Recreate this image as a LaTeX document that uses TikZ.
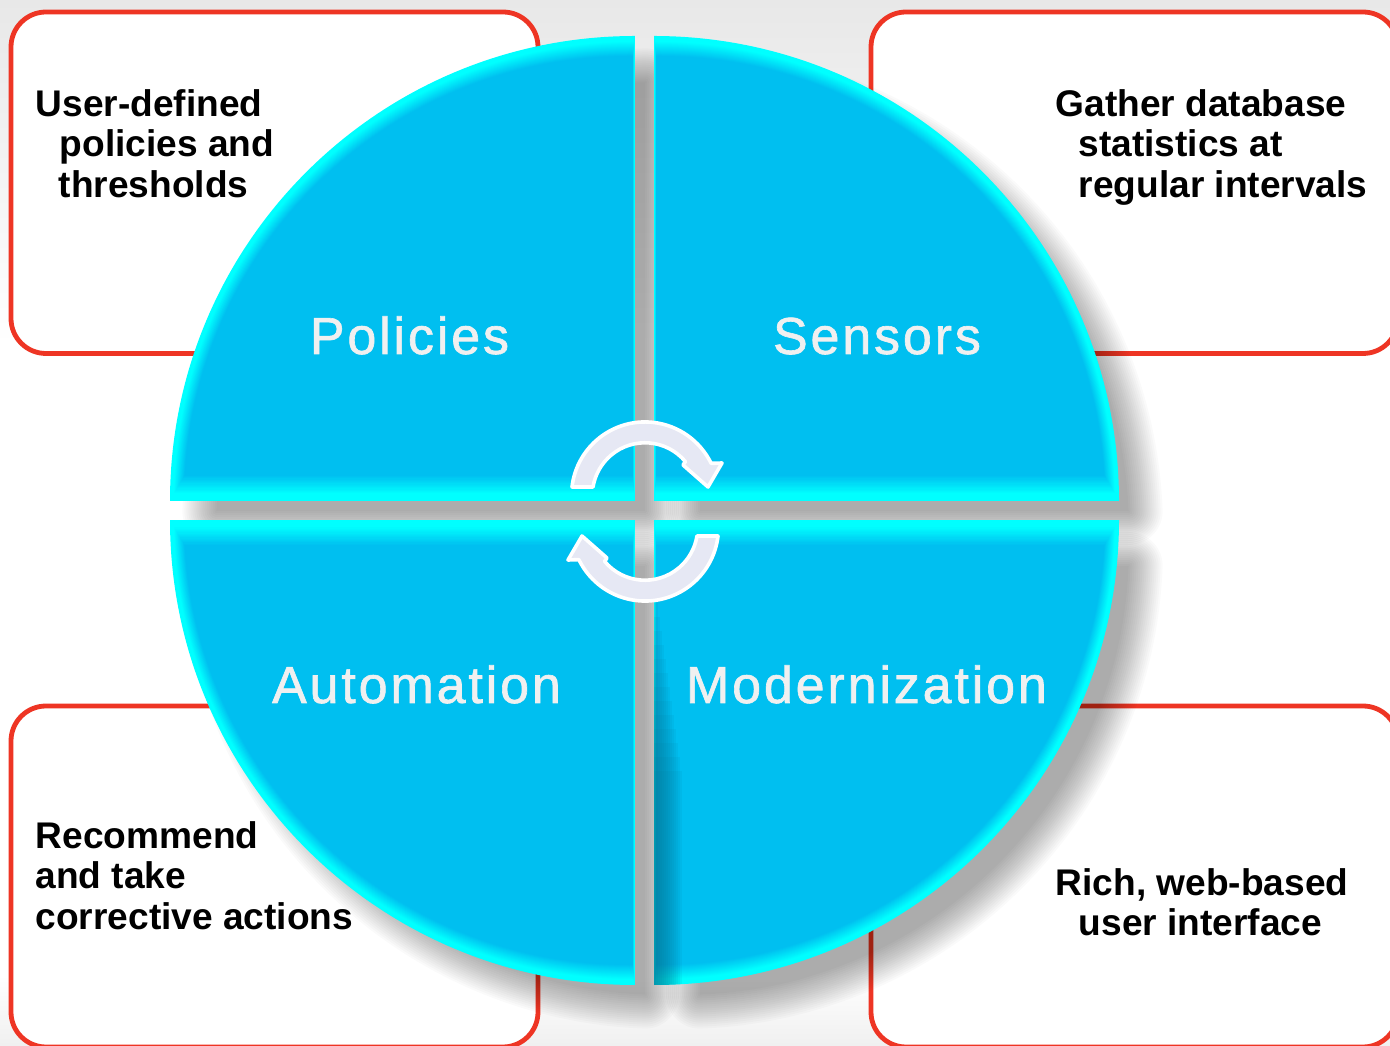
\documentclass[tikz,border=0pt]{standalone}
\usepackage{fontspec}
\setmainfont{Liberation Sans}
\newfontfamily\lblfont[LetterSpace=5.5,FakeBold=1.2]{Liberation Sans}
\definecolor{qedge}{HTML}{00FFFF}
\definecolor{qbody}{HTML}{00BFF0}
\definecolor{boxred}{HTML}{EE3524}
\definecolor{arrowfill}{HTML}{E6E8F4}
\definecolor{bgtop}{HTML}{E8E8E8}
\definecolor{bgbot}{HTML}{F0F0F0}
\tikzset{
  x=1pt,y=1pt,
  redbox/.style={draw=boxred,line width=4.8pt,rounded corners=35pt,fill=white},
  note/.style={font=\fontsize{37.1}{40.5}\selectfont\bfseries,align=left,anchor=north west,inner sep=0pt,text=black},
  quadlabel/.style={font=\fontsize{52}{56}\selectfont\lblfont,text=white!94!black,anchor=base,inner sep=0pt},
  cyclearrow/.style={draw=white,line width=3.6pt,line join=round,fill=arrowfill}
}
% args: corner x, corner y, dir x, dir y, arc start, arc end
\newcommand{\quadshadow}[6]{%
  \foreach \k in {1,...,18}{%
    \begin{scope}[transparency group,opacity=0.0196]
      \path[fill=black,draw=black,line join=round,line width={4*\k-4+0.01}]
        (#1+28+#3*18,#2-28+#4*18) -- (#1+28+#3*446.6,#2-28+#4*18)
        arc[start angle=#5,end angle=#6,radius=447] -- cycle;
    \end{scope}
  }%
}
\newcommand{\quadbody}[4]{%
  \foreach \k in {0,...,20}{%
    \pgfmathsetmacro{\p}{min(100,100*(20-\k)/15)}
    \begin{scope}
      \clip (#1+#3*0.3*\k,#2) circle[radius=465-\k];
      \fill[qedge!\p!qbody] (#1+#3*0.12*\k,#2+#4*1.25*\k) rectangle (#1+#3*500,#2+#4*500);
    \end{scope}
  }%
}
\begin{document}
\begin{tikzpicture}
\useasboundingbox (0,0) rectangle (1390,1045);
% page background
\fill[white] (0,0) rectangle (1390,1045);
\shade[top color=bgtop,bottom color=white] (0,700) rectangle (1390,1045);
\shade[top color=white,bottom color=bgbot] (0,0) rectangle (1390,70);
% callout boxes
\path[redbox] (11,691.5) rectangle (538,1033);
\path[redbox] (871,691.5) rectangle (1398,1033);
\path[redbox] (11,-2) rectangle (538,339);
\path[redbox] (871,-2) rectangle (1398,339);
% drop shadows
\quadshadow{635}{544}{-1}{1}{177.69}{92.31}
\quadshadow{654}{544}{1}{1}{2.31}{87.69}
\quadshadow{635}{525}{-1}{-1}{182.31}{267.69}
\quadshadow{654}{525}{1}{-1}{357.69}{272.31}
% quadrants
\quadbody{635}{544}{-1}{1}
\quadbody{654}{544}{1}{1}
\quadbody{635}{525}{-1}{-1}
\quadbody{654}{525}{1}{-1}
% darker inner edge of the lower right quadrant
\begin{scope}
  \clip (654,525) circle[radius=465];
  \foreach \j in {1,...,14}{
    \fill[black!40!qbody,opacity=0.08] (654,60) rectangle (654+2*\j,470-14*\j);
  }
\end{scope}
% cycle arrows
\path[cyclearrow] (572,558) arc[start angle=173.4,end angle=25.9,radius=73.5]
  -- (722,582) -- (708,558) -- (683,580) -- (685.4,583.4)
  arc[start angle=40,end angle=170.7,radius=52.7] -- cycle;
\path[cyclearrow,rotate around={180:(645,533.5)}] (572,558) arc[start angle=173.4,end angle=25.9,radius=73.5]
  -- (722,582) -- (708,558) -- (683,580) -- (685.4,583.4)
  arc[start angle=40,end angle=170.7,radius=52.7] -- cycle;
% quadrant labels
\node[quadlabel] (policies) at (409.5,691) {Policies};
\node[quadlabel] (sensors) at (877,691) {Sensors};
\node[quadlabel] (automation) at (416.5,342) {Automation};
\node[quadlabel] (modern) at (866.5,342) {Modernization};
% notes
\node[note] (n1) at (35.5,956) {User-defined\\\hspace*{24pt}policies and\\\hspace*{23pt}thresholds};
\node[note] (n2) at (1055.5,956) {Gather database\\\hspace*{23pt}statistics at\\\hspace*{23pt}regular intervals};
\node[note] (n3) at (35.5,224) {Recommend\\and take\\corrective actions};
\node[note] (n4) at (1055.5,177) {Rich, web-based\\\hspace*{23pt}user interface};
\end{tikzpicture}
\end{document}
